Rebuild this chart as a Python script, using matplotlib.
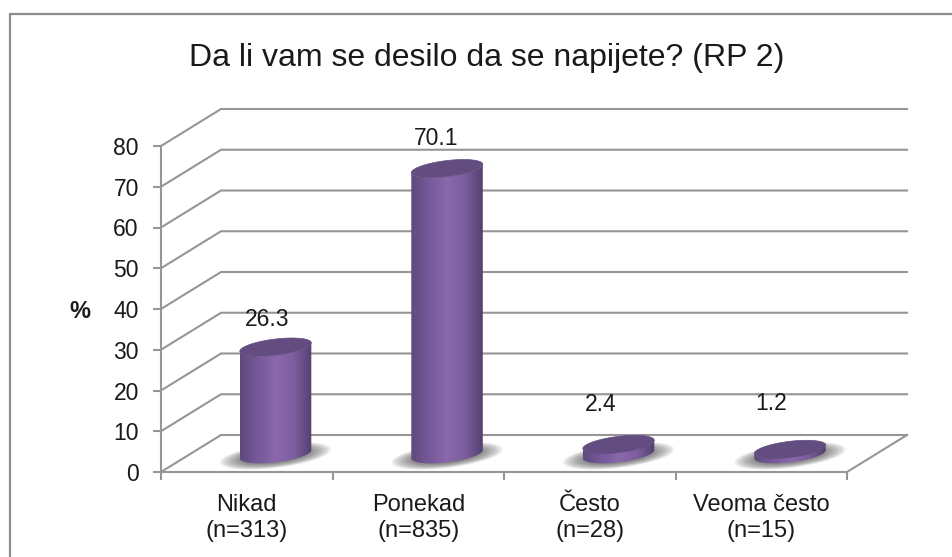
import numpy as np
import matplotlib
matplotlib.use("Agg")
import matplotlib.pyplot as plt
from matplotlib.patches import Polygon
from matplotlib.colors import LinearSegmentedColormap

plt.rcParams['font.family'] = ['Liberation Sans', 'DejaVu Sans']

# data
categories = ["Nikad\n(n=313)", "Ponekad\n(n=835)", "Često\n(n=28)", "Veoma često\n(n=15)"]
values = [26.3, 70.1, 2.4, 1.2]
y_ticks = [0, 10, 20, 30, 40, 50, 60, 70, 80]
title = "Da li vam se desilo da se napijete? (RP 2)"

W, H = 952, 557
L, R, B, T = 161, 847, 472, 146
fig = plt.figure(figsize=(W / 100, H / 100), dpi=100)
ax = fig.add_axes([L / W, (H - B) / H, (R - L) / W, (B - T) / H])
ax.set_xlim(0, 4)
ax.set_ylim(0, 80)
ax.patch.set_alpha(0)

# px per data unit
sx = (R - L) / 4
sy = (B - T) / 80
grid = "#969696"
lw = 1.5

# 3d wall offset
dx = 60 / sx
dy = 37 / sy
for v in y_ticks:
    ax.plot([0, dx, 4 + dx], [v, v + dy, v + dy], color=grid, lw=lw, clip_on=False, zorder=1)
ax.plot([4, 4 + dx], [0, dy], color=grid, lw=lw, clip_on=False, zorder=1)

for s in ["top", "right"]:
    ax.spines[s].set_visible(False)
for s in ["left", "bottom"]:
    ax.spines[s].set_color(grid)
    ax.spines[s].set_linewidth(lw)
ax.set_yticks(y_ticks)
ax.set_xticks(range(5))
ax.set_xticklabels([])
ax.set_xticks([i + 0.5 for i in range(4)], categories, minor=True)
ax.tick_params(axis="y", length=6, width=lw, color=grid, labelsize=16.5, pad=10, labelcolor="#1a1a1a")
ax.tick_params(axis="x", which="major", length=6, width=lw, color=grid)
ax.tick_params(axis="x", which="minor", length=0, labelsize=17, pad=16, labelcolor="#1a1a1a")
for lab in ax.get_xticklabels(minor=True):
    lab.set_linespacing(1.25)
ax.set_ylabel("%", rotation=0, fontsize=17, fontweight="bold", color="#1a1a1a")
ax.yaxis.set_label_coords((80 - L) / (R - L), (B - 312) / (B - T), transform=ax.transAxes)
ax.yaxis.label.set_va("center")

cmap = LinearSegmentedColormap.from_list("cyl", ["#5f4a7c", "#75599a", "#8a68ab", "#7c5e9f", "#54406f"])
tilt = np.radians(7)


def ellipse(cx, cy, a, b):
    # tilted ellipse, sizes in px, result in data coords
    t = np.linspace(0, 2 * np.pi, 181)
    px = a * np.cos(t) * np.cos(tilt) - b * np.sin(t) * np.sin(tilt)
    py = a * np.cos(t) * np.sin(tilt) + b * np.sin(t) * np.cos(tilt)
    return cx + px / sx, cy + py / sy


label_shift = [(-8, 28), (-11, 30), (-18, 40), (-19, 46)]
for i, v in enumerate(values):
    cx = i + 0.5 + 0.48 * dx
    cy = 0.48 * dy

    # floor shadow
    for k in np.linspace(1, 0.4, 16):
        ex, ey = ellipse(cx, cy - 0.4, 56 * k, 12 * k)
        ax.fill(ex, ey, color="#4a4a4a", alpha=0.085, lw=0, zorder=2, clip_on=False)

    # body with side gradient
    a, b = 36, 8
    bx, by = ellipse(cx, cy, a, b)
    tx, ty = ellipse(cx, cy + v, a, b)
    lo, hi = np.argmin(bx), np.argmax(bx)
    order = np.roll(np.arange(180), -lo)[:((hi - lo) % 180) + 1]
    px = list(bx[order]) + list(tx[order][::-1])
    py = list(by[order]) + list(ty[order][::-1])
    body = Polygon(np.column_stack([px, py]), closed=True, fc="none", ec="none", transform=ax.transData)
    ax.add_patch(body)
    img = ax.imshow(np.linspace(0, 1, 128)[None, :], cmap=cmap, aspect="auto", zorder=3,
                    extent=[bx.min(), bx.max(), cy - 3, cy + v + 3])
    img.set_clip_path(body)
    img.set_clip_on(True)

    # top cap
    ax.fill(tx, ty, color="#634c80", ec="#634c80", lw=0.5, zorder=4, clip_on=False)

    ax.annotate(f"{v}", (cx, cy + v), xytext=(label_shift[i][0] * 0.72, label_shift[i][1] * 0.72),
                textcoords="offset points", ha="center", va="center", fontsize=16.5, color="#1a1a1a", zorder=5)

ax.set_xlim(0, 4)
ax.set_ylim(0, 80)

fig.text(486.5 / W, 1 - 58 / H, title, ha="center", va="center", fontsize=23, color="#1a1a1a")

# chart frame
fig.add_artist(plt.Rectangle((9.5 / W, -0.02), 950 / W, 1 - 13.5 / H + 0.02, fc="none", ec="#8c8c8c", lw=1.6,
                             transform=fig.transFigure))

fig.savefig("out.png", dpi=100)
